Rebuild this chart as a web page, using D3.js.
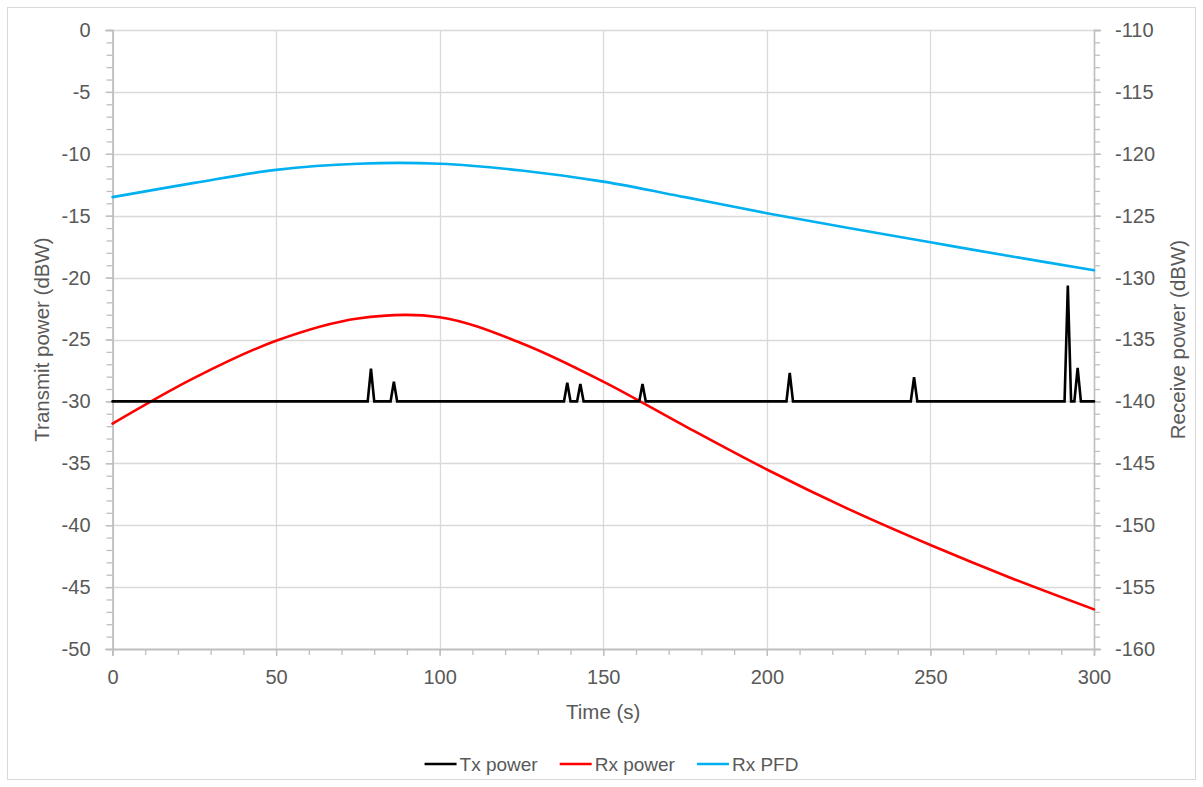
<!DOCTYPE html>
<html>
<head>
<meta charset="utf-8">
<script src="https://cdn.jsdelivr.net/npm/d3@7/dist/d3.min.js"></script>
<style>
  html, body { margin: 0; padding: 0; background: #fff; }
  svg { display: block; font-family: "Liberation Sans", Arial, sans-serif; }
</style>
</head>
<body>
<svg id="chart" width="1203" height="787"></svg>
<script>
// Time axis (s)
const timeTicks = [0, 50, 100, 150, 200, 250, 300];
// Left axis: transmit power (dBW)
const txTicks = [0, -5, -10, -15, -20, -25, -30, -35, -40, -45, -50];
// Right axis: receive power (dBW)
const rxTicks = [-110, -115, -120, -125, -130, -135, -140, -145, -150, -155, -160];

// Tx power: flat at -30 dBW with short bursts
const txTime  = [0, 78, 79, 80, 85, 86, 87, 138, 139, 140, 142, 143, 144, 161, 162, 163, 206, 207, 208, 244, 245, 246, 291, 292, 293, 294, 295, 296, 300];
const txPower = [-30, -30, -27.35, -30, -30, -28.4, -30, -30, -28.5, -30, -30, -28.6, -30, -30, -28.6, -30, -30, -27.7, -30, -30, -28.05, -30, -30, -20.65, -30, -30, -27.3, -30, -30];

// Rx power (dBW, right axis)
const rxTime  = [0, 25, 50, 75, 100, 125, 150, 175, 200, 225, 250, 275, 300];
const rxPower = [-141.8, -138.1, -135.1, -133.3, -133.2, -135.3, -138.4, -142.0, -145.5, -148.7, -151.6, -154.3, -156.8];

// Rx PFD (right axis)
const pfdTime  = [0, 25, 50, 75, 100, 125, 150, 175, 200, 225, 250, 275, 300];
const pfdValue = [-123.5, -122.35, -121.3, -120.8, -120.8, -121.35, -122.25, -123.5, -124.8, -126.0, -127.15, -128.3, -129.4];

const seriesNames = ["Tx power", "Rx power", "Rx PFD"];
const seriesColors = ["#000000", "#ff0000", "#00b0f0"];

const svg = d3.select("#chart");
const textColor = "#595959";
const axisColor = "#bfbfbf";
const gridColor = "#d9d9d9";
const tickFont = 20;
const titleFont = 20.5;
const legendFont = 19;

const plot = { left: 112.5, right: 1094, top: 30, bottom: 649 };

const x = d3.scaleLinear().domain([0, 300]).range([plot.left, plot.right]);
const yL = d3.scaleLinear().domain([-50, 0]).range([plot.bottom, plot.top]);
const yR = d3.scaleLinear().domain([-160, -110]).range([plot.bottom, plot.top]);

// outer chart frame
svg.append("rect")
  .attr("x", 7.5).attr("y", 7.5)
  .attr("width", 1188).attr("height", 772)
  .attr("fill", "#fff").attr("stroke", gridColor).attr("stroke-width", 1);

// gridlines
const grid = svg.append("g").attr("stroke", gridColor).attr("stroke-width", 1.3);
grid.selectAll("line.h").data(txTicks).join("line")
  .attr("x1", plot.left).attr("x2", plot.right)
  .attr("y1", d => Math.round(yL(d)) + 0.5).attr("y2", d => Math.round(yL(d)) + 0.5);
grid.selectAll("line.v").data(timeTicks).join("line")
  .attr("y1", plot.top).attr("y2", plot.bottom)
  .attr("x1", d => Math.round(x(d)) + 0.5).attr("x2", d => Math.round(x(d)) + 0.5);

function styleAxis(g) {
  g.select(".domain").attr("stroke", axisColor).attr("stroke-width", 1.3);
  g.selectAll(".tick line").attr("stroke", axisColor).attr("stroke-width", 1.3);
  g.selectAll(".tick text").attr("fill", textColor)
    .style("font-size", tickFont + "px")
    .style("font-family", '"Liberation Sans", Arial, sans-serif');
}

const fmt = d => String(d);

// left axis: minor then major
const gLmin = svg.append("g").attr("transform", `translate(${plot.left},0)`)
  .call(d3.axisLeft(yL).tickValues(d3.range(-50, 1, 1)).tickSize(6).tickFormat(""));
styleAxis(gLmin);
const gL = svg.append("g").attr("transform", `translate(${plot.left},0)`)
  .call(d3.axisLeft(yL).tickValues(txTicks).tickSize(7).tickPadding(15).tickFormat(fmt));
styleAxis(gL);

// right axis
const gRmin = svg.append("g").attr("transform", `translate(${plot.right},0)`)
  .call(d3.axisRight(yR).tickValues(d3.range(-160, -109, 1)).tickSize(6).tickFormat(""));
styleAxis(gRmin);
const gR = svg.append("g").attr("transform", `translate(${plot.right},0)`)
  .call(d3.axisRight(yR).tickValues(rxTicks).tickSize(7).tickPadding(14).tickFormat(fmt));
styleAxis(gR);

// bottom axis
const gBmin = svg.append("g").attr("transform", `translate(0,${plot.bottom})`)
  .call(d3.axisBottom(x).tickValues(d3.range(0, 301, 10)).tickSize(6).tickFormat(""));
styleAxis(gBmin);
const gB = svg.append("g").attr("transform", `translate(0,${plot.bottom})`)
  .call(d3.axisBottom(x).tickValues(timeTicks).tickSize(7).tickPadding(14).tickFormat(fmt));
styleAxis(gB);

// axis titles
svg.append("text").text("Time (s)")
  .attr("x", (plot.left + plot.right) / 2).attr("y", 719)
  .attr("text-anchor", "middle").attr("fill", textColor).style("font-size", titleFont + "px");
svg.append("text").text("Transmit power (dBW)")
  .attr("transform", `translate(49,${(plot.top + plot.bottom) / 2}) rotate(-90)`)
  .attr("text-anchor", "middle").attr("fill", textColor).style("font-size", titleFont + "px");
svg.append("text").text("Receive power (dBW)")
  .attr("transform", `translate(1185,${(plot.top + plot.bottom) / 2}) rotate(-90)`)
  .attr("text-anchor", "middle").attr("fill", textColor).style("font-size", titleFont + "px");

// series
const lines = svg.append("g").attr("fill", "none").attr("stroke-width", 2.6)
  .attr("stroke-linejoin", "round").attr("stroke-linecap", "round");

const txData = txTime.map((t, i) => [t, txPower[i]]);
const rxData = rxTime.map((t, i) => [t, rxPower[i]]);
const pfdData = pfdTime.map((t, i) => [t, pfdValue[i]]);

const smooth = d3.curveCatmullRom.alpha(0.5);
lines.append("path").datum(pfdData)
  .attr("stroke", seriesColors[2])
  .attr("d", d3.line().x(d => x(d[0])).y(d => yR(d[1])).curve(smooth));
lines.append("path").datum(rxData)
  .attr("stroke", seriesColors[1])
  .attr("d", d3.line().x(d => x(d[0])).y(d => yR(d[1])).curve(smooth));
lines.append("path").datum(txData)
  .attr("stroke", seriesColors[0]).attr("stroke-linejoin", "miter")
  .attr("d", d3.line().x(d => x(d[0])).y(d => yL(d[1])));

// legend
const legend = svg.append("g");
const legY = 764;
const items = legend.selectAll("g").data(seriesNames).join("g");
items.append("line").attr("x1", 0).attr("x2", 32).attr("y1", legY).attr("y2", legY)
  .attr("stroke", (d, i) => seriesColors[i]).attr("stroke-width", 2.6);
items.append("text").text(d => d).attr("x", 35).attr("y", legY + 7)
  .attr("fill", textColor).style("font-size", legendFont + "px");
let cursor = 0;
const offsets = [];
items.each(function () {
  offsets.push(cursor);
  const w = d3.select(this).select("text").node().getComputedTextLength();
  cursor += 35 + w + 22;
});
const totalW = cursor - 22;
const startX = 611.5 - totalW / 2;
items.attr("transform", (d, i) => `translate(${startX + offsets[i]},0)`);
</script>
</body>
</html>
